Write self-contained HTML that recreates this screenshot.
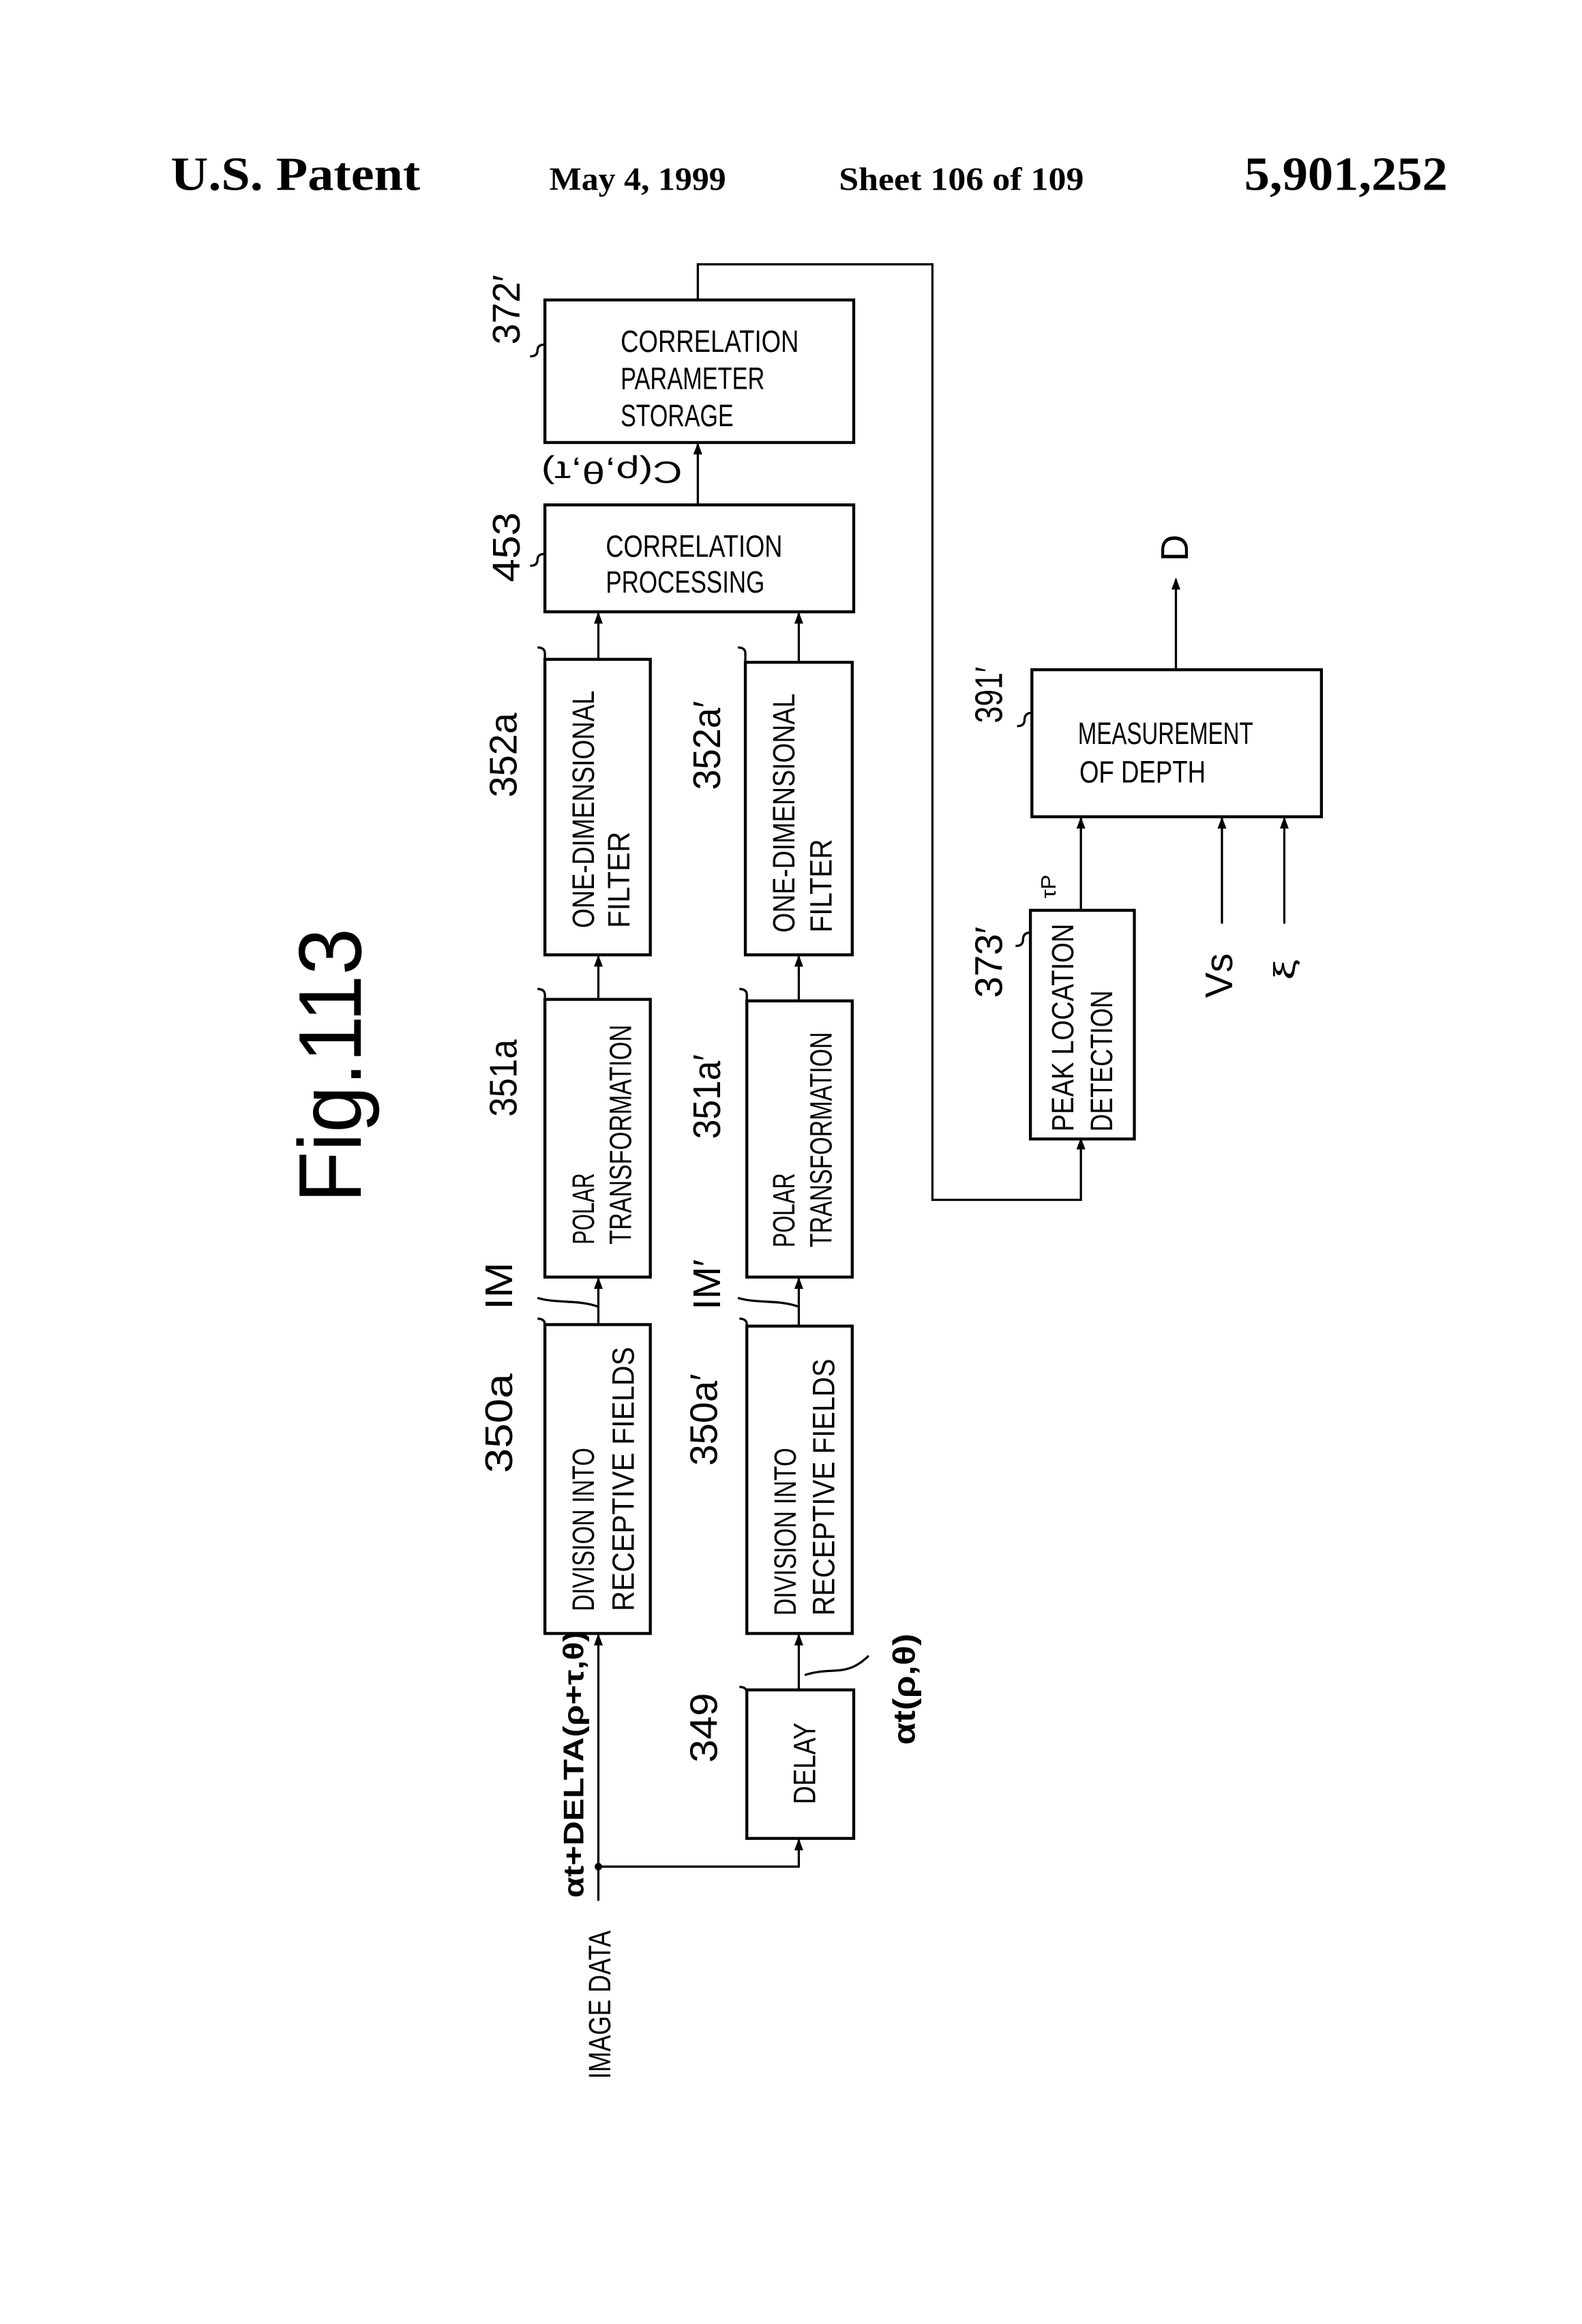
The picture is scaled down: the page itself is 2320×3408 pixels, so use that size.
<!DOCTYPE html>
<html><head><meta charset="utf-8"><style>
html,body{margin:0;padding:0;background:#fff}
svg{display:block}
text{font-family:"Liberation Sans",sans-serif;fill:#000}
.h{font-family:"Liberation Serif",serif;font-weight:bold}
.b{font-size:21px}
.r{font-size:26px;font-weight:normal}
</style></head><body>
<svg width="2320" height="3408" viewBox="0 0 1065.5 1565" preserveAspectRatio="none" xmlns="http://www.w3.org/2000/svg">
<defs><marker id="a" markerWidth="8" markerHeight="8" refX="7" refY="4" orient="auto" markerUnits="userSpaceOnUse"><path d="M0,1 L8,4 L0,7 z" fill="#000"/></marker></defs>
<text class="h" x="115" y="128" font-size="32" textLength="168" lengthAdjust="spacingAndGlyphs">U.S. Patent</text>
<text class="h" x="370" y="128" font-size="22" textLength="119" lengthAdjust="spacingAndGlyphs">May 4, 1999</text>
<text class="h" x="565" y="128" font-size="22" textLength="165" lengthAdjust="spacingAndGlyphs">Sheet 106 of 109</text>
<text class="h" x="838" y="128" font-size="32" textLength="137" lengthAdjust="spacingAndGlyphs">5,901,252</text>
<text transform="rotate(-90 243 810)" x="243" y="810" font-size="60" textLength="185" lengthAdjust="spacingAndGlyphs">Fig.113</text>
<g fill="none" stroke="#000" stroke-width="2">
<rect x="367" y="202" width="208" height="96"/>
<rect x="367" y="340" width="208" height="72"/>
<rect x="367" y="444" width="71" height="199"/>
<rect x="502" y="446" width="72" height="197"/>
<rect x="367" y="673" width="71" height="187"/>
<rect x="503" y="674" width="71" height="186"/>
<rect x="367" y="892" width="71" height="208"/>
<rect x="503" y="893" width="71" height="207"/>
<rect x="503" y="1138" width="72" height="100"/>
<rect x="695" y="451" width="195" height="99"/>
<rect x="694" y="613" width="70" height="154"/>
</g>
<g fill="none" stroke="#000" stroke-width="1.5">
<polyline points="470,202 470,178 628,178 628,808 728,808 728,767" marker-end="url(#a)"/>
<line x1="728" y1="613" x2="728" y2="551" marker-end="url(#a)"/>
<line x1="823" y1="622" x2="823" y2="551" marker-end="url(#a)"/>
<line x1="865" y1="622" x2="865" y2="551" marker-end="url(#a)"/>
<line x1="792" y1="451" x2="792" y2="390" marker-end="url(#a)"/>
<line x1="470" y1="340" x2="470" y2="299" marker-end="url(#a)"/>
<line x1="403" y1="444" x2="403" y2="413" marker-end="url(#a)"/>
<line x1="538" y1="446" x2="538" y2="413" marker-end="url(#a)"/>
<line x1="403" y1="673" x2="403" y2="644" marker-end="url(#a)"/>
<line x1="538" y1="674" x2="538" y2="644" marker-end="url(#a)"/>
<line x1="403" y1="892" x2="403" y2="861" marker-end="url(#a)"/>
<line x1="538" y1="893" x2="538" y2="861" marker-end="url(#a)"/>
<line x1="403" y1="1280" x2="403" y2="1101" marker-end="url(#a)"/>
<polyline points="403,1257 538,1257 538,1239" marker-end="url(#a)"/>
<line x1="538" y1="1138" x2="538" y2="1101" marker-end="url(#a)"/>
<path d="M542,1128 C560,1122 570,1130 585,1115"/>
<path d="M403,880 C390,875 375,878 362,874"/>
<path d="M538,880 C525,875 510,878 497,874"/>
<path d="M367,232 q-5,0 -5,4 q0,4 -5,4"/><path d="M367,373 q-5,0 -5,4 q0,4 -5,4"/>
<path d="M367,452 v-12 q0,-4 -5,-4"/><path d="M502,452 v-12 q0,-4 -5,-4"/>
<path d="M367,680 v-10 q0,-4 -5,-4"/><path d="M503,680 v-10 q0,-4 -5,-4"/>
<path d="M367,900 v-8 q0,-4 -5,-4"/><path d="M503,900 v-8 q0,-4 -5,-4"/>
<path d="M503,1145 v-5 q0,-4 -5,-4"/><path d="M695,480 q-5,0 -5,5 q0,4 -5,4"/><path d="M694,628 q-5,0 -5,5 q0,4 -5,4"/>
</g>
<circle cx="403" cy="1257" r="2.5"/>
<text class="b" x="418" y="237" textLength="120" lengthAdjust="spacingAndGlyphs">CORRELATION</text>
<text class="b" x="418" y="262" textLength="97" lengthAdjust="spacingAndGlyphs">PARAMETER</text>
<text class="b" x="418" y="287" textLength="76" lengthAdjust="spacingAndGlyphs">STORAGE</text>
<text class="b" x="408" y="375" textLength="119" lengthAdjust="spacingAndGlyphs">CORRELATION</text>
<text class="b" x="408" y="399" textLength="107" lengthAdjust="spacingAndGlyphs">PROCESSING</text>
<text class="b" x="726" y="501" textLength="118" lengthAdjust="spacingAndGlyphs">MEASUREMENT</text>
<text class="b" x="727" y="527" textLength="85" lengthAdjust="spacingAndGlyphs">OF DEPTH</text>
<text class="b" transform="rotate(180 412 318)" x="412" y="325" text-anchor="middle" textLength="95" lengthAdjust="spacingAndGlyphs">C(ρ,θ,τ)</text>
<g class="b">
<text transform="rotate(-90 400 1085)" x="400" y="1085" textLength="110" lengthAdjust="spacingAndGlyphs">DIVISION INTO</text>
<text transform="rotate(-90 427 1085)" x="427" y="1085" textLength="178" lengthAdjust="spacingAndGlyphs">RECEPTIVE FIELDS</text>
<text transform="rotate(-90 536 1088)" x="536" y="1088" textLength="113" lengthAdjust="spacingAndGlyphs">DIVISION INTO</text>
<text transform="rotate(-90 562 1088)" x="562" y="1088" textLength="173" lengthAdjust="spacingAndGlyphs">RECEPTIVE FIELDS</text>
<text transform="rotate(-90 400 838)" x="400" y="838" textLength="48" lengthAdjust="spacingAndGlyphs">POLAR</text>
<text transform="rotate(-90 425 838)" x="425" y="838" textLength="148" lengthAdjust="spacingAndGlyphs">TRANSFORMATION</text>
<text transform="rotate(-90 535 840)" x="535" y="840" textLength="50" lengthAdjust="spacingAndGlyphs">POLAR</text>
<text transform="rotate(-90 560 840)" x="560" y="840" textLength="145" lengthAdjust="spacingAndGlyphs">TRANSFORMATION</text>
<text transform="rotate(-90 400 625)" x="400" y="625" textLength="160" lengthAdjust="spacingAndGlyphs">ONE-DIMENSIONAL</text>
<text transform="rotate(-90 424 625)" x="424" y="625" textLength="65" lengthAdjust="spacingAndGlyphs">FILTER</text>
<text transform="rotate(-90 535 628)" x="535" y="628" textLength="161" lengthAdjust="spacingAndGlyphs">ONE-DIMENSIONAL</text>
<text transform="rotate(-90 560 628)" x="560" y="628" textLength="63" lengthAdjust="spacingAndGlyphs">FILTER</text>
<text transform="rotate(-90 723 762)" x="723" y="762" textLength="140" lengthAdjust="spacingAndGlyphs">PEAK LOCATION</text>
<text transform="rotate(-90 749 762)" x="749" y="762" textLength="95" lengthAdjust="spacingAndGlyphs">DETECTION</text>
<text transform="rotate(-90 549 1215)" x="549" y="1215" textLength="55" lengthAdjust="spacingAndGlyphs">DELAY</text>
<text transform="rotate(-90 411 1400)" x="411" y="1400" textLength="100" lengthAdjust="spacingAndGlyphs">IMAGE DATA</text>
<text transform="rotate(-90 393 1278)" x="393" y="1278" font-size="19" font-weight="bold" textLength="180" lengthAdjust="spacingAndGlyphs">αt+DELTA(ρ+τ,θ)</text>
<text transform="rotate(-90 616 1175)" x="616" y="1175" font-weight="bold" textLength="75" lengthAdjust="spacingAndGlyphs">αt(ρ,θ)</text>
<text transform="rotate(-90 711 605)" x="711" y="605" font-size="14" textLength="16" lengthAdjust="spacingAndGlyphs">τP</text>
</g>
<g class="r">
<text transform="rotate(-90 350 232)" x="350" y="232" textLength="47" lengthAdjust="spacingAndGlyphs">372′</text>
<text transform="rotate(-90 350 392)" x="350" y="392" textLength="47" lengthAdjust="spacingAndGlyphs">453</text>
<text transform="rotate(-90 348 537)" x="348" y="537" textLength="57" lengthAdjust="spacingAndGlyphs">352a</text>
<text transform="rotate(-90 485 532)" x="485" y="532" textLength="60" lengthAdjust="spacingAndGlyphs">352a′</text>
<text transform="rotate(-90 348 752)" x="348" y="752" textLength="52" lengthAdjust="spacingAndGlyphs">351a</text>
<text transform="rotate(-90 485 767)" x="485" y="767" textLength="57" lengthAdjust="spacingAndGlyphs">351a′</text>
<text transform="rotate(-90 345 992)" x="345" y="992" textLength="67" lengthAdjust="spacingAndGlyphs">350a</text>
<text transform="rotate(-90 483 987)" x="483" y="987" textLength="62" lengthAdjust="spacingAndGlyphs">350a′</text>
<text transform="rotate(-90 483 1187)" x="483" y="1187" textLength="47" lengthAdjust="spacingAndGlyphs">349</text>
<text transform="rotate(-90 345 882)" x="345" y="882" textLength="32" lengthAdjust="spacingAndGlyphs">IM</text>
<text transform="rotate(-90 485 882)" x="485" y="882" textLength="34" lengthAdjust="spacingAndGlyphs">IM′</text>
<text transform="rotate(-90 675 487)" x="675" y="487" textLength="38" lengthAdjust="spacingAndGlyphs">391′</text>
<text transform="rotate(-90 675 672)" x="675" y="672" textLength="48" lengthAdjust="spacingAndGlyphs">373′</text>
<text transform="rotate(-90 830 672)" x="830" y="672" textLength="30" lengthAdjust="spacingAndGlyphs">Vs</text>
<text transform="rotate(-90 872 660)" x="872" y="660" font-size="20" textLength="14" lengthAdjust="spacingAndGlyphs">ξ</text>
<text transform="rotate(-90 800 378)" x="800" y="378" textLength="18" lengthAdjust="spacingAndGlyphs">D</text>
</g>
</svg>
</body></html>
